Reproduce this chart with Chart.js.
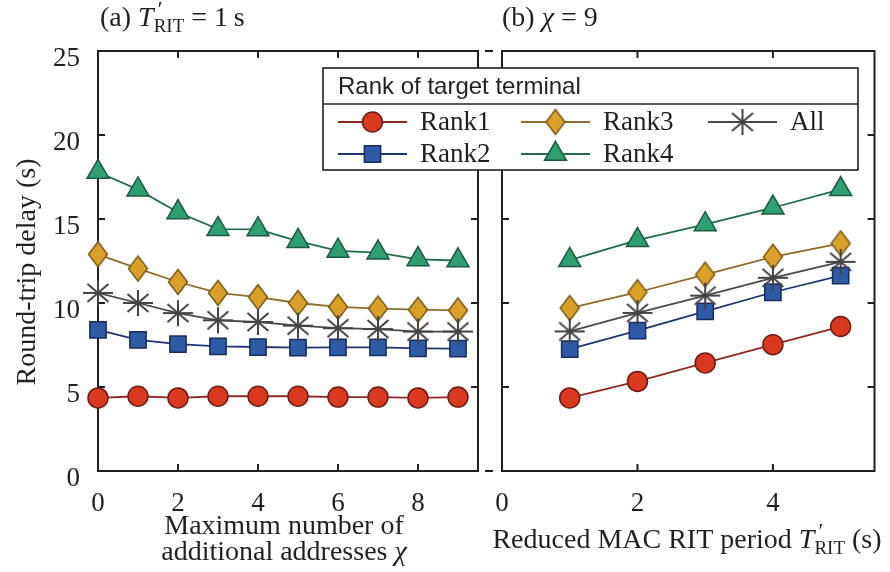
<!DOCTYPE html>
<html lang="en">
<head>
<meta charset="UTF-8">
<title>Round-trip delay by rank</title>
<script src="https://cdn.jsdelivr.net/npm/chart.js"></script>
<style>
    body { margin: 0; background: #fff; }
    #wrap { position: relative; width: 890px; height: 572px; }
    #wrap canvas { position: absolute; left: 0; top: 0; }
</style>
</head>
<body>
<div id="wrap">
    <canvas id="chiChart" width="890" height="572"></canvas>
    <canvas id="ritChart" width="890" height="572"></canvas>
</div>
<script>
    // (a) delay vs. maximum number of additional addresses, T'_RIT = 1 s
    const chiValues = [0, 1, 2, 3, 4, 5, 6, 7, 8, 9];
    const rank1Chi = [4.35, 4.45, 4.35, 4.45, 4.45, 4.45, 4.4, 4.4, 4.35, 4.4];
    const rank2Chi = [8.4, 7.8, 7.55, 7.42, 7.38, 7.34, 7.36, 7.36, 7.3, 7.28];
    const rank3Chi = [12.9, 12.05, 11.25, 10.6, 10.35, 10.0, 9.77, 9.67, 9.6, 9.56];
    const rank4Chi = [17.8, 16.75, 15.4, 14.4, 14.38, 13.68, 13.1, 13.0, 12.6, 12.53];
    const allChi = [10.6, 10.0, 9.4, 8.97, 8.87, 8.65, 8.5, 8.45, 8.3, 8.3];

    // (b) delay vs. reduced MAC RIT period, chi = 9
    const ritValues = [1, 2, 3, 4, 5];
    const rank1Rit = [4.35, 5.33, 6.43, 7.52, 8.6];
    const rank2Rit = [7.26, 8.35, 9.5, 10.64, 11.63];
    const rank3Rit = [9.7, 10.64, 11.69, 12.75, 13.55];
    const rank4Rit = [12.55, 13.74, 14.68, 15.67, 16.77];
    const allRit = [8.31, 9.41, 10.44, 11.5, 12.45];

    const delayTicks = [0, 5, 10, 15, 20, 25];
    const chiTicks = [0, 2, 4, 6, 8];
    const ritTicks = [0, 2, 4];

    const ink = '#231f20';
    const serif = '"Liberation Serif", "Times New Roman", serif';
    const sans = '"Liberation Sans", Arial, sans-serif';

    // tall diamond marker
    function makeDiamond(fill, edge) {
        const c = document.createElement('canvas');
        c.width = 24; c.height = 30;
        const g = c.getContext('2d');
        g.beginPath();
        g.moveTo(12, 2.5); g.lineTo(21.5, 15); g.lineTo(12, 27.5); g.lineTo(2.5, 15);
        g.closePath();
        g.fillStyle = fill; g.fill();
        g.lineWidth = 1.5; g.strokeStyle = edge; g.stroke();
        return c;
    }

    // asterisk marker for the "All" curve
    function makeStar(color) {
        const c = document.createElement('canvas');
        c.width = 34; c.height = 30;
        const g = c.getContext('2d');
        g.strokeStyle = color; g.lineWidth = 2;
        g.beginPath();
        g.moveTo(17, 2); g.lineTo(17, 28);
        g.moveTo(2, 15); g.lineTo(32, 15);
        g.moveTo(6.5, 6); g.lineTo(27.5, 24);
        g.moveTo(6.5, 24); g.lineTo(27.5, 6);
        g.stroke();
        return c;
    }

    const styles = {
        rank1: { line: '#8c2a22', fill: '#d8391f', edge: '#6e1d16', point: 'circle', radius: 10, order: 5 },
        rank2: { line: '#1f3570', fill: '#2f5ba6', edge: '#1b2c5e', point: 'rect', radius: 11.5, order: 4 },
        rank3: { line: '#8c6d2e', fill: '#d9a12a', edge: '#7a5a18', point: null, radius: 12, order: 3 },
        rank4: { line: '#236b4b', fill: '#2f9f71', edge: '#1d5a40', point: 'triangle', radius: 12.7, order: 2 },
        all:   { line: '#4a4a4a', fill: '#4a4a4a', edge: '#4a4a4a', point: null, radius: 14, order: 1 }
    };
    styles.rank3.point = makeDiamond(styles.rank3.fill, styles.rank3.edge);
    styles.all.point = makeStar('#444');

    function series(label, xs, ys, s) {
        return {
            label,
            data: xs.map((x, i) => ({ x, y: ys[i] })),
            borderColor: s.line,
            borderWidth: 1.8,
            pointStyle: s.point,
            pointRadius: s.radius,
            pointBackgroundColor: s.fill,
            pointBorderColor: s.edge,
            pointBorderWidth: 1.5,
            order: s.order,
            clip: false,
            tension: 0
        };
    }

    // draw a row of text pieces with their own fonts (for italics and subscripts)
    function drawRuns(ctx, runs, x, y, align) {
        let total = 0;
        runs.forEach(r => { ctx.font = r.f; r.w = r.keep ? 0 : ctx.measureText(r.t).width; total += r.w; });
        let cx = align === 'center' ? x - total / 2 : x;
        ctx.textAlign = 'left';
        ctx.textBaseline = 'alphabetic';
        runs.forEach(r => {
            ctx.font = r.f;
            ctx.fillText(r.t, cx + (r.dx || 0), y + (r.dy || 0));
            cx += r.w;
        });
    }

    const f28 = '28px ' + serif;
    const i28 = 'italic 28px ' + serif;
    const f19 = '19px ' + serif;
    const tRit = [
        { t: 'T', f: i28 },
        { t: '\u2032', f: '22px ' + serif, dx: 4, dy: -10, keep: true },
        { t: 'RIT', f: f19, dy: 6 }
    ];

    // frame with inward tick marks on all four sides
    const framePlugin = {
        id: 'frame',
        beforeDatasetsDraw(chart) {
            const { ctx, chartArea: a, scales } = chart;
            ctx.save();
            ctx.strokeStyle = ink;
            ctx.lineWidth = 2;
            ctx.strokeRect(a.left, a.top, a.right - a.left, a.bottom - a.top);
            ctx.beginPath();
            scales.x.ticks.forEach(t => {
                const px = scales.x.getPixelForValue(t.value);
                if (px <= a.left + 1) return;
                ctx.moveTo(px, a.bottom); ctx.lineTo(px, a.bottom - 7);
                ctx.moveTo(px, a.top); ctx.lineTo(px, a.top + 7);
            });
            scales.y.ticks.forEach(t => {
                const py = scales.y.getPixelForValue(t.value);
                if (py <= a.top + 1 || py >= a.bottom - 1) return;
                ctx.moveTo(a.left, py); ctx.lineTo(a.left + 7, py);
                ctx.moveTo(a.right, py); ctx.lineTo(a.right - 7, py);
            });
            ctx.stroke();
            ctx.restore();
        }
    };

    const chiText = {
        id: 'chiText',
        afterDraw(chart) {
            const { ctx, chartArea: a } = chart;
            ctx.save();
            ctx.fillStyle = ink;
            drawRuns(ctx, [{ t: '(a) ', f: f28 }, ...tRit, { t: ' = 1\u2009s', f: f28 }], 100, 26, 'left');
            drawRuns(ctx, [{ t: 'Maximum number of', f: f28 }], 284, 534, 'center');
            drawRuns(ctx, [{ t: 'additional addresses ', f: f28 }, { t: '\u03c7', f: i28 }], 284, 560, 'center');

            // y axis title
            ctx.save();
            ctx.translate(35, 272);
            ctx.rotate(-Math.PI / 2);
            ctx.font = f28;
            ctx.textAlign = 'center';
            ctx.textBaseline = 'alphabetic';
            ctx.fillText('Round-trip delay (s)', 0, 0);
            ctx.restore();

            // axis break between the panels
            ctx.strokeStyle = ink;
            ctx.lineWidth = 2;
            ctx.beginPath();
            ctx.moveTo(a.right + 7, a.top); ctx.lineTo(a.right + 15, a.top);
            ctx.moveTo(a.right + 7, a.bottom); ctx.lineTo(a.right + 15, a.bottom);
            ctx.stroke();
            ctx.restore();
        }
    };

    function drawLegendMarker(ctx, s, x, y) {
        ctx.lineWidth = 1.5;
        ctx.fillStyle = s.fill;
        ctx.strokeStyle = s.edge;
        if (s.point === 'circle') {
            ctx.beginPath(); ctx.arc(x, y, s.radius, 0, Math.PI * 2); ctx.fill(); ctx.stroke();
        } else if (s.point === 'rect') {
            const h = s.radius * Math.SQRT1_2;
            ctx.beginPath(); ctx.rect(x - h, y - h, 2 * h, 2 * h); ctx.fill(); ctx.stroke();
        } else if (s.point === 'triangle') {
            const r = s.radius;
            ctx.beginPath();
            ctx.moveTo(x, y - r);
            ctx.lineTo(x + r * Math.sin(2 * Math.PI / 3), y - r * Math.cos(2 * Math.PI / 3));
            ctx.lineTo(x + r * Math.sin(4 * Math.PI / 3), y - r * Math.cos(4 * Math.PI / 3));
            ctx.closePath(); ctx.fill(); ctx.stroke();
        } else {
            ctx.drawImage(s.point, x - s.point.width / 2, y - s.point.height / 2);
        }
    }

    const ritText = {
        id: 'ritText',
        afterDraw(chart) {
            const { ctx } = chart;
            ctx.save();
            ctx.fillStyle = ink;
            drawRuns(ctx, [{ t: '(b) ', f: f28 }, { t: '\u03c7', f: i28 }, { t: ' = 9', f: f28 }], 502, 26, 'left');
            drawRuns(ctx, [{ t: 'Reduced MAC RIT period ', f: f28 }, ...tRit, { t: ' (s)', f: f28 }], 687, 548, 'center');

            // legend box spanning both panels
            const box = { left: 323, right: 858, top: 68, mid: 104, bottom: 170 };
            ctx.fillStyle = '#fff';
            ctx.fillRect(box.left, box.top, box.right - box.left, box.bottom - box.top);
            ctx.strokeStyle = ink;
            ctx.lineWidth = 1.6;
            ctx.strokeRect(box.left, box.top, box.right - box.left, box.bottom - box.top);
            ctx.beginPath();
            ctx.moveTo(box.left, box.mid); ctx.lineTo(box.right, box.mid);
            ctx.stroke();
            ctx.fillStyle = ink;
            ctx.font = '24px ' + sans;
            ctx.textBaseline = 'middle';
            ctx.textAlign = 'left';
            ctx.fillText('Rank of target terminal', 338, 87);

            const items = [
                { s: styles.rank1, col: 0, row: 0 },
                { s: styles.rank2, col: 0, row: 1 },
                { s: styles.rank3, col: 1, row: 0 },
                { s: styles.rank4, col: 1, row: 1 },
                { s: styles.all, col: 2, row: 0 }
            ];
            const colX = [338, 521, 708];
            const rowY = [122, 154];
            const sets = chart.data.datasets;
            items.forEach((it, i) => {
                const x = colX[it.col], y = rowY[it.row];
                ctx.strokeStyle = it.s.line;
                ctx.lineWidth = 1.8;
                ctx.beginPath(); ctx.moveTo(x, y); ctx.lineTo(x + 69, y); ctx.stroke();
                drawLegendMarker(ctx, it.s, x + 34.5, y);
                ctx.fillStyle = ink;
                ctx.font = '27px ' + serif;
                ctx.textBaseline = 'middle';
                ctx.textAlign = 'left';
                ctx.fillText(sets[i].label, x + 82, y + 1);
            });
            ctx.restore();
        }
    };

    const tickFont = { family: serif, size: 27 };

    function baseOptions(padding, xMax, xTicks, showY) {
        return {
            responsive: false,
            animation: false,
            events: [],
            layout: { padding },
            plugins: { legend: { display: false }, tooltip: { enabled: false } },
            scales: {
                x: {
                    type: 'linear',
                    min: 0,
                    max: xMax,
                    grid: { display: false },
                    border: { display: false },
                    afterBuildTicks: s => { s.ticks = xTicks.map(v => ({ value: v })); },
                    afterFit: s => { s.height = 101; },
                    ticks: { font: tickFont, color: ink, padding: 9, autoSkip: false, maxRotation: 0 }
                },
                y: {
                    type: 'linear',
                    display: showY,
                    min: 0,
                    max: 25,
                    grid: { display: false },
                    border: { display: false },
                    afterBuildTicks: s => { s.ticks = delayTicks.map(v => ({ value: v })); },
                    afterFit: s => { if (showY) s.width = 98; },
                    ticks: { font: tickFont, color: ink, padding: 10, labelOffset: 8 }
                }
            }
        };
    }

    new Chart(document.getElementById('chiChart'), {
        type: 'line',
        data: {
            datasets: [
                series('Rank1', chiValues, rank1Chi, styles.rank1),
                series('Rank2', chiValues, rank2Chi, styles.rank2),
                series('Rank3', chiValues, rank3Chi, styles.rank3),
                series('Rank4', chiValues, rank4Chi, styles.rank4),
                series('All', chiValues, allChi, styles.all)
            ]
        },
        options: baseOptions({ left: 0, top: 51, right: 412, bottom: 0 }, 9.5, chiTicks, true),
        plugins: [framePlugin, chiText]
    });

    new Chart(document.getElementById('ritChart'), {
        type: 'line',
        data: {
            datasets: [
                series('Rank1', ritValues, rank1Rit, styles.rank1),
                series('Rank2', ritValues, rank2Rit, styles.rank2),
                series('Rank3', ritValues, rank3Rit, styles.rank3),
                series('Rank4', ritValues, rank4Rit, styles.rank4),
                series('All', ritValues, allRit, styles.all)
            ]
        },
        options: baseOptions({ left: 502, top: 51, right: 8, bottom: 0 }, 5.5, ritTicks, false),
        plugins: [framePlugin, ritText]
    });
</script>
</body>
</html>
